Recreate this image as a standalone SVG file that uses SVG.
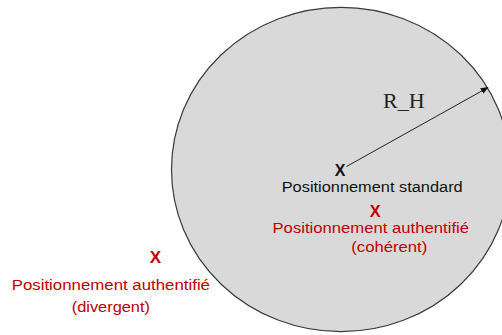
<svg xmlns="http://www.w3.org/2000/svg" width="502" height="335" viewBox="0 0 502 335">
<style>
.lbl{font-family:"Liberation Sans",Arial,sans-serif;font-size:15.5px}
.blk{fill:#111111}
.red{fill:#c00000}
.mark{font-family:"Liberation Sans",Arial,sans-serif;font-weight:bold;text-anchor:middle}
</style>
<defs>
<marker id="ah" viewBox="0 0 10 10" refX="9" refY="5" markerWidth="8" markerHeight="8" markerUnits="userSpaceOnUse" orient="auto">
<path d="M0,1 L10,5 L0,9 z" fill="#111"/>
</marker>
</defs>
<rect width="502" height="335" fill="#ffffff"/>
<g id="zone">
<ellipse cx="341" cy="169.5" rx="169.5" ry="162.2" fill="#d9d9d9" stroke="#3a3a3a" stroke-width="1.2"/>
</g>
<g id="connectors">
<line x1="346.5" y1="166.5" x2="488" y2="87.5" stroke="#222" stroke-width="1" marker-end="url(#ah)"/>
<text x="383" y="108.3" font-family="'Liberation Serif','Times New Roman',serif" font-size="22" fill="#222">R_H</text>
</g>
<g id="standard">
<text class="mark blk" x="340" y="175.5" font-size="16">X</text>
<text class="lbl blk" x="281.7" y="192" textLength="181" lengthAdjust="spacingAndGlyphs">Positionnement standard</text>
</g>
<g id="coherent">
<text class="mark red" x="375.3" y="216.7" font-size="16.3">X</text>
<text class="lbl red" x="272.5" y="232.5" textLength="196.5" lengthAdjust="spacingAndGlyphs">Positionnement authentifié</text>
<text class="lbl red" x="351.3" y="251.5" textLength="76" lengthAdjust="spacingAndGlyphs">(cohérent)</text>
</g>
<g id="divergent">
<text class="mark red" x="155.3" y="263.3" font-size="17">X</text>
<text class="lbl red" x="11.7" y="290" textLength="198.3" lengthAdjust="spacingAndGlyphs">Positionnement authentifié</text>
<text class="lbl red" x="71.7" y="311.5" textLength="78.3" lengthAdjust="spacingAndGlyphs">(divergent)</text>
</g>
</svg>
